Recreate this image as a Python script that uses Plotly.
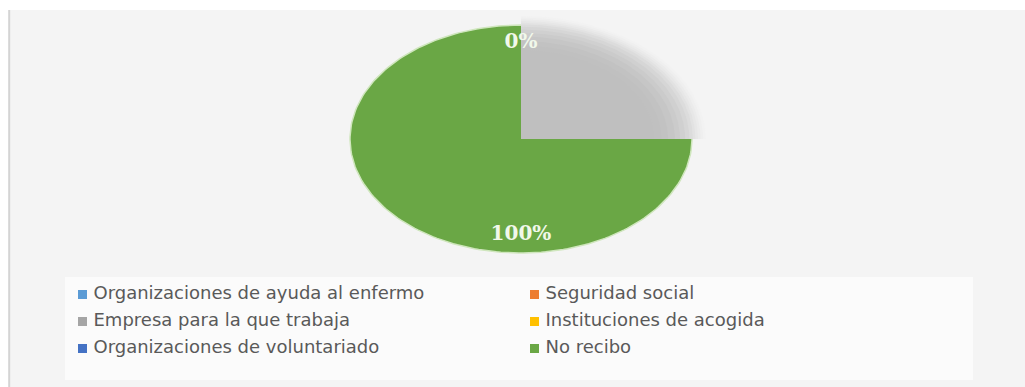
import numpy as np
import plotly.graph_objects as go

# Fuentes de apoyo recibidas (porcentaje de respuestas)
categorias = [
    "Organizaciones de ayuda al enfermo",
    "Seguridad social",
    "Empresa para la que trabaja",
    "Instituciones de acogida",
    "Organizaciones de voluntariado",
    "No recibo",
]
porcentajes = [0, 0, 0, 0, 0, 100]
colores = ["#5b9bd5", "#ed7d31", "#a5a5a5", "#ffc000", "#4472c4", "#6aa745"]

# Pie drawn as an ellipse: 1 data unit = horizontal / vertical radius
RX_PX, RY_PX = 171, 114
CX_PX, CY_PX = 521, 139
W, H = 1025, 387
ML, MT = 10, 10
x_range = [-(CX_PX - ML) / RX_PX, (W - CX_PX) / RX_PX]
y_range = [-(H - CY_PX) / RY_PX, (CY_PX - MT) / RY_PX]

# legend grid (pixel positions on the overlay axes)
LEG_X0, LEG_DX = 82.5, 452
LEG_Y0, LEG_DY = 294.5, 27
LEG_TXT_GAP = 11


def sector(a0, a1, scale=1.0, full=False, n=240):
    """Polygon of an elliptical sector between two angles (degrees, math orientation)."""
    t = np.radians(np.linspace(a0, a1, n))
    xs = scale * np.cos(t)
    ys = scale * np.sin(t)
    if full:
        return xs, ys
    return np.concatenate([[0], xs, [0]]), np.concatenate([[0], ys, [0]])


fig = go.Figure()

total = float(sum(porcentajes))
acum = 0.0
etiquetas = {}
for cat, val, col in zip(categorias, porcentajes, colores):
    # slices start at 12 o'clock and run clockwise
    a_ini = 90 - 360 * acum / total
    a_fin = 90 - 360 * (acum + val) / total
    if val > 0:
        xs, ys = sector(a_ini, a_fin, full=(val == total))
        fig.add_trace(go.Scatter(
            x=xs, y=ys, mode="lines", fill="toself", fillcolor=col,
            line=dict(color="#cfe6bd", width=1.5),
            showlegend=False, name=cat,
            hoverinfo="text", hovertext=f"{cat}: {val:.0f}%",
        ))
    a_mid = np.radians((a_ini + a_fin) / 2)
    pos = (round(0.84 * np.cos(a_mid), 4), round(0.84 * np.sin(a_mid), 4))
    etiquetas[(pos, f"{val / total * 100:.0f}%")] = True
    acum += val

# soft grey shading over the upper-right quarter
escalas = [1.08, 1.065, 1.05, 1.035, 1.02, 1.005, 0.985, 0.96, 0.93, 0.9, 0.86, 0.82, 0.78]
tonos = [242, 239, 235, 231, 226, 220, 214, 208, 203, 198, 194, 192, 191]
for s, g in zip(escalas, tonos):
    xs, ys = sector(90, 0, scale=s)
    fig.add_trace(go.Scatter(
        x=xs, y=ys, mode="lines", fill="toself",
        fillcolor=f"rgb({g},{g},{g})", line=dict(width=0),
        showlegend=False, hoverinfo="skip",
    ))

# data labels
fig.add_trace(go.Scatter(
    x=[p[0][0] for p in etiquetas], y=[p[0][1] for p in etiquetas],
    text=[p[1] for p in etiquetas], mode="text",
    textfont=dict(family="DejaVu Serif", size=20, color="#f1f8ea", weight="bold"),
    showlegend=False, hoverinfo="skip",
))

# legend: two columns, filled row by row
idx = np.arange(len(categorias))
leg_x = LEG_X0 + (idx % 2) * LEG_DX
leg_y = LEG_Y0 + (idx // 2) * LEG_DY
fig.add_trace(go.Scatter(
    x=leg_x, y=leg_y, xaxis="x2", yaxis="y2", mode="markers",
    marker=dict(symbol="square", size=9, color=colores, line=dict(width=0)),
    showlegend=False, hoverinfo="skip",
))
fig.add_trace(go.Scatter(
    x=leg_x + LEG_TXT_GAP, y=leg_y, xaxis="x2", yaxis="y2", mode="text",
    text=categorias, textposition="middle right",
    textfont=dict(family="DejaVu Sans", size=18, color="#595959"),
    showlegend=False, hoverinfo="skip",
))

fig.update_layout(
    width=W, height=H,
    margin=dict(l=ML, r=0, t=MT, b=0),
    paper_bgcolor="#ffffff",
    plot_bgcolor="#f4f4f4",
    xaxis=dict(range=x_range, visible=False, fixedrange=True),
    yaxis=dict(range=y_range, visible=False, fixedrange=True),
    xaxis2=dict(range=[ML, W], visible=False, fixedrange=True, overlaying="x", anchor="y2"),
    yaxis2=dict(range=[H, MT], visible=False, fixedrange=True, overlaying="y", anchor="x2"),
    showlegend=False,
    shapes=[dict(type="line", xref="paper", yref="paper", x0=-0.0008, x1=-0.0008,
                 y0=0, y1=1, line=dict(color="#d4d4d4", width=2)),
            dict(type="rect", xref="x2", yref="y2", x0=65, x1=973, y0=277, y1=380,
                 fillcolor="#fbfbfb", line=dict(width=0), layer="below")],
)

fig.write_html("out.html")
